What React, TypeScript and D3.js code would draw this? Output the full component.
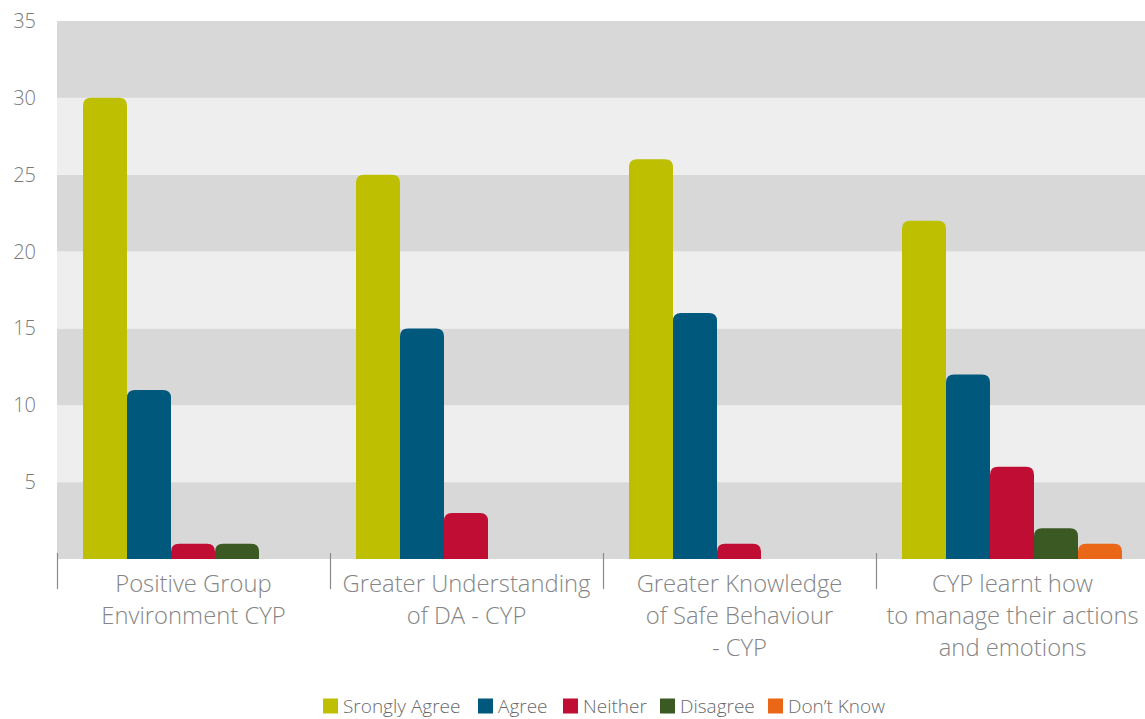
import * as d3 from 'd3'
import { FC } from 'react'

const categories = [
  ['Positive Group', 'Environment CYP'],
  ['Greater Understanding', 'of DA - CYP'],
  ['Greater Knowledge', 'of Safe Behaviour', '- CYP'],
  ['CYP learnt how', 'to manage their actions', 'and emotions'],
]
const seriesNames = ['Srongly Agree', 'Agree', 'Neither', 'Disagree', "Don\u2019t Know"]
const seriesColors = ['#bdbf00', '#00587c', '#c00d33', '#3b5a23', '#e96716']
const stronglyAgree = [30, 25, 26, 22]
const agree = [11, 15, 16, 12]
const neither = [1, 3, 1, 6]
const disagree = [1, 0, 0, 2]
const dontKnow = [0, 0, 0, 1]
const yTicks = [5, 10, 15, 20, 25, 30, 35]

const series = [stronglyAgree, agree, neither, disagree, dontKnow]
const W = 1145
const H = 719
const font = "'Open Sans', 'Noto Sans', sans-serif"

// rect with rounded top corners only
const topRounded = (x: number, y: number, w: number, h: number, r: number) => {
  const rr = Math.min(r, h, w / 2)
  return `M${x},${y + h}V${y + rr}Q${x},${y} ${x + rr},${y}H${x + w - rr}Q${x + w},${y} ${x + w},${y + rr}V${y + h}Z`
}

const App: FC = () => {
  // the last group runs a little past the right edge of the page
  const plot = { left: 57, right: 1149, top: 21, bottom: 559 }
  const x0 = d3.scaleBand<number>().domain(d3.range(categories.length)).range([plot.left, plot.right])
  const x1 = d3.scaleBand<number>().domain(d3.range(series.length)).range([26, x0.bandwidth() - 27])
  const y = d3.scaleLinear().domain([0, 35]).range([plot.bottom, plot.top])
  const bands = d3.range(0, 35, 5)

  return (
    <svg width={W} height={H} style={{ position: 'absolute', left: 0, top: 0, fontFamily: font }}>
      {/* alternating background bands */}
      {bands.map(b => (
        <rect key={b} x={plot.left} y={y(b + 5)} width={W - plot.left} height={y(b) - y(b + 5)}
          fill={(b / 5) % 2 === 0 ? '#d8d8d8' : '#eeeeee'} />
      ))}
      {yTicks.map(t => (
        <text key={t} x={36} y={y(t)} dy="0.35em" textAnchor="end" fontSize={20} fontWeight={300} fill="#7a7a7a">{t}</text>
      ))}
      {categories.map((c, i) => (
        <g key={i} transform={`translate(${x0(i)},0)`}>
          {series.map((s, j) => s[i] > 0 && (
            <path key={j} d={topRounded(x1(j) as number, y(s[i]), x1.bandwidth(), y(0) - y(s[i]), 8)} fill={seriesColors[j]} />
          ))}
          <line x1={0.5} x2={0.5} y1={553} y2={589} stroke="#8a8a8a" strokeWidth={1.2} />
          {c.map((line, k) => (
            <text key={k} x={x0.bandwidth() / 2} y={584 + k * 32} dy="0.35em" textAnchor="middle" fontSize={23.8} fontWeight={300} fill="#858585">{line}</text>
          ))}
        </g>
      ))}
      {/* legend */}
      {(() => {
        let lx = 323
        return seriesNames.map((n, j) => {
          const g = (
            <g key={n} transform={`translate(${lx},706)`}>
              <rect x={0} y={-7.5} width={15} height={15} fill={seriesColors[j]} />
              <text x={20} y={0} dy="0.35em" fontSize={19} fontWeight={300} fill="#6a6a6a">{n}</text>
            </g>
          )
          lx += [155, 85, 97, 108, 0][j]
          return g
        })
      })()}
    </svg>
  )
}

export default App
